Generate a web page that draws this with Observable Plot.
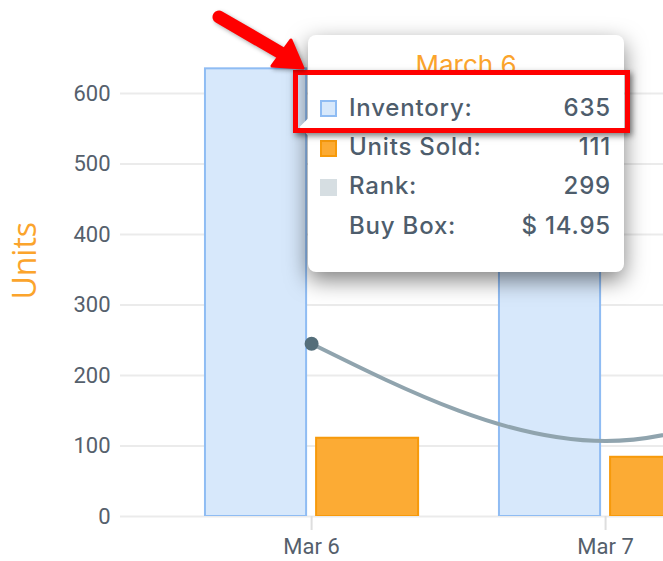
<!DOCTYPE html>
<html>
<head>
<meta charset="utf-8">
<script src="https://cdn.jsdelivr.net/npm/d3@7"></script>
<script src="https://cdn.jsdelivr.net/npm/@observablehq/plot@0.6"></script>
<style>
  html, body { margin: 0; padding: 0; background: #fff; overflow: hidden; }
  #wrap { position: relative; width: 663px; height: 561px; overflow: hidden; }
  #tip { position: absolute; left: 308px; top: 35px; width: 316px; height: 237px; background: #fff;
         border-radius: 8px; box-shadow: 0 8px 22px rgba(0,0,0,0.5); font-family: Inter, "Open Sans", sans-serif; color: #4e5d6c; }
  #tip .ptr { position: absolute; left: -6px; top: 86px; width: 12px; height: 12px; background: #fff; transform: rotate(45deg); }
  #tip .title { position: absolute; left: 0; width: 100%; top: 16.5px; text-align: center; font-size: 26px; line-height: 26px; color: #fba42c; }
  #tip .row { position: absolute; left: 41px; right: 13px; display: flex; justify-content: space-between;
              font-size: 24px; line-height: 24px; font-weight: 500; letter-spacing: 0.8px; }
  #tip .ico { position: absolute; left: 12px; width: 17px; height: 17px; box-sizing: border-box; }
  #redbox { position: absolute; left: 293px; top: 70px; width: 337px; height: 63px; box-sizing: border-box;
            border: 5px solid #f00; box-shadow: 2px 3px 6px rgba(0,0,0,0.5); }
  #arrow { position: absolute; left: 0; top: 0; pointer-events: none; filter: drop-shadow(2px 2px 2px rgba(0,0,0,0.35)); }
</style>
</head>
<body>
<div id="wrap"></div>
<script>
// ---- data ----
const dates = ["2024-03-06", "2024-03-07"];
const inventory = [635, 560];
const unitsSold = [111, 84];
const rankDates = ["2024-03-06", "2024-03-07", "2024-03-08"];
const rankLine = [245, 107, 262];        // line as read against the Units axis
const yTicks = [0, 100, 200, 300, 400, 500, 600];
const yLabel = "Units";
const tipTitle = "March 6";
const tipLabels = ["Inventory:", "Units Sold:", "Rank:", "Buy Box:"];
const tipRank = 299;
const tipBuyBox = 14.95;

// ---- build ----
const DAY = 864e5;
const parse = d3.utcParse("%Y-%m-%d");
const bars = dates.map((d, i) => ({date: parse(d), inventory: inventory[i], sold: unitsSold[i]}));
const rank = rankDates.map((d, i) => ({date: parse(d), v: rankLine[i]}));
const shift = (d, f) => new Date(+d + f * DAY);
const d0 = bars[0].date;

const orange = "#fba42c";
const chart = Plot.plot({
  width: 663, height: 561,
  marginLeft: 120, marginRight: 0, marginTop: 22.5, marginBottom: 45,
  x: {type: "utc", domain: [shift(d0, -0.65), shift(d0, 1.197)]},
  y: {domain: [0, 700]},
  style: {fontFamily: "Roboto, sans-serif", background: "transparent"},
  marks: [
    Plot.gridY({ticks: yTicks, stroke: "#ebebeb", strokeOpacity: 1, strokeWidth: 2}),
    Plot.axisY({ticks: yTicks, tickSize: 0, tickPadding: 10, fontSize: 22, fill: "#55606c", label: null}),
    Plot.axisX({ticks: bars.map(b => b.date), tickFormat: d3.utcFormat("%b %-d"), tickSize: 14, tickPadding: 8,
                fontSize: 22, fill: "#55606c", stroke: "#dedede", strokeWidth: 2, label: null}),
    Plot.text([yLabel], {frameAnchor: "left", dx: -95, dy: -9, rotate: -90, fontSize: 32, fill: orange,
                         fontFamily: "Open Sans", textAnchor: "middle"}),
    Plot.rectY(bars, {x1: d => shift(d.date, -0.361), x2: d => shift(d.date, -0.017), y1: 0, y2: "inventory",
                      fill: "#d7e8fb", stroke: "#8fbcf3", strokeWidth: 2, clip: true}),
    Plot.rectY(bars, {x1: d => shift(d.date, 0.017), x2: d => shift(d.date, 0.364), y1: 0, y2: "sold",
                      fill: "#fcab34", stroke: "#f79a0b", strokeWidth: 2, clip: true}),
    Plot.line(rank, {x: "date", y: "v", curve: "monotone-x", stroke: "#90a4ae", strokeWidth: 4, clip: true}),
    Plot.dot(rank.slice(0, 1), {x: "date", y: "v", r: 7, fill: "#546e7a", stroke: "none"})
  ]
});
const wrap = document.getElementById("wrap");
wrap.appendChild(chart);

// ---- tooltip ----
const tip = document.createElement("div");
tip.id = "tip";
const vals = [String(inventory[0]), String(unitsSold[0]), String(tipRank), "$ " + tipBuyBox.toFixed(2)];
const icons = [
  "background:#d7e8fb;border:2px solid #8fbcf3;",
  "background:#fcab34;border:2px solid #f79a0b;",
  "background:#d6dee2;",
  null
];
const baselines = [82, 121, 160, 200];
const iconTops = [65, 105, 144];
let html = `<div class="ptr"></div><div class="title">${tipTitle}</div>`;
tipLabels.forEach((lab, i) => {
  html += `<div class="row" style="top:${baselines[i] - 20.8}px"><span>${lab}</span><span>${vals[i]}</span></div>`;
  if (icons[i]) html += `<div class="ico" style="top:${iconTops[i]}px;${icons[i]}"></div>`;
});
tip.innerHTML = html;
wrap.appendChild(tip);

const box = document.createElement("div");
box.id = "redbox";
wrap.appendChild(box);

const ns = "http://www.w3.org/2000/svg";
const arrow = document.createElementNS(ns, "svg");
arrow.setAttribute("id", "arrow");
arrow.setAttribute("width", 663);
arrow.setAttribute("height", 561);
arrow.innerHTML = `<line x1="219" y1="17" x2="281" y2="53" stroke="#f00" stroke-width="13" stroke-linecap="round"/>
  <polygon points="303,68 272,66 291,40" fill="#f00" stroke="#f00" stroke-width="3" stroke-linejoin="round"/>`;
wrap.appendChild(arrow);
</script>
</body>
</html>
